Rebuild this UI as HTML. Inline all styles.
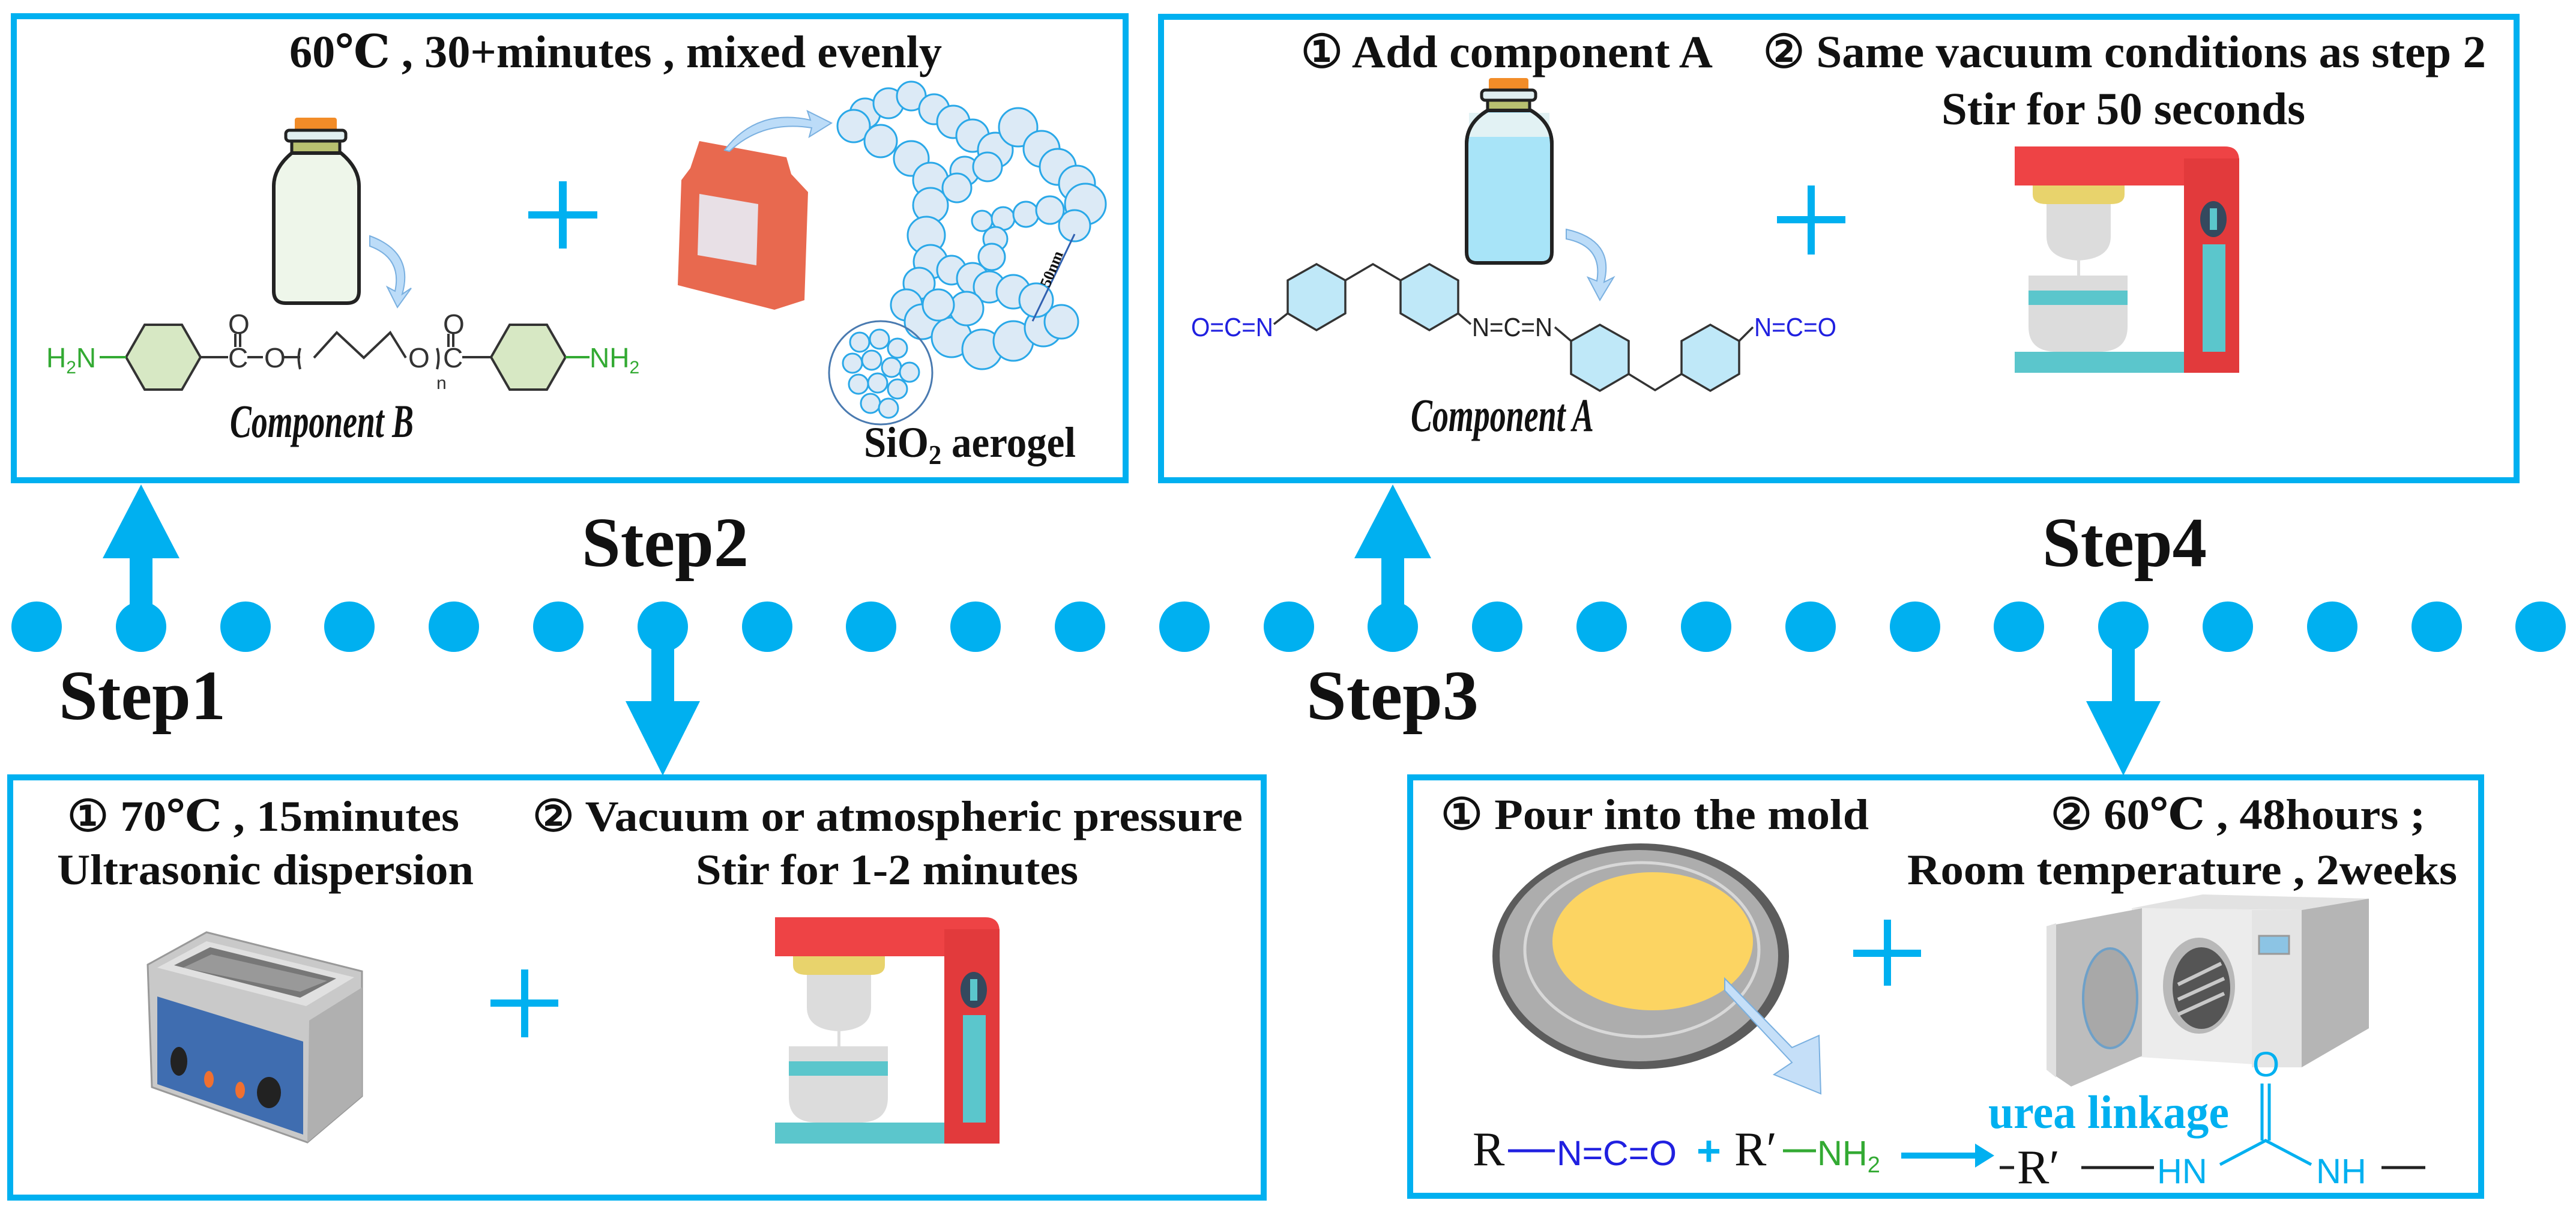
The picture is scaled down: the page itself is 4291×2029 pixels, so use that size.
<!DOCTYPE html>
<html><head><meta charset="utf-8"><style>
html,body{margin:0;padding:0;background:#fff;}
svg{display:block;}
.t{font-family:"Liberation Serif","DejaVu Serif",serif;font-weight:bold;fill:#111;}
.c{font-family:"Liberation Sans","DejaVu Sans",sans-serif;}
.s{font-family:"Liberation Serif",serif;font-style:italic;font-weight:bold;fill:#111;}
</style></head><body>
<svg width="4291" height="2029" viewBox="0 0 4291 2029" xmlns="http://www.w3.org/2000/svg">
<defs>
<g id="mixer">
  <path d="M0 0 H350 Q374 0 374 24 V377 H282 V65 H0 Z" fill="#ee4345"/>
  <rect x="282" y="20" width="92" height="357" fill="#e23a3c"/>
  <rect x="0" y="342" width="282" height="35" fill="#5bc6cc"/>
  <path d="M30 65 H183 V80 Q183 96 160 96 H53 Q30 96 30 80 Z" fill="#e8d36c"/>
  <path d="M53 96 H160 V150 Q160 187 106 190 Q53 187 53 150 Z" fill="#dcdcdc"/>
  <rect x="104" y="188" width="5" height="30" fill="#ddd"/>
  <path d="M23 215 H188 V300 Q188 342 140 342 H70 Q23 342 23 300 Z" fill="#dcdcdc"/>
  <rect x="23" y="240" width="165" height="24" fill="#5bc6cc"/>
  <ellipse cx="331" cy="121" rx="22" ry="30" fill="#34495e"/>
  <rect x="325" y="103" width="12" height="36" fill="#5bc6cc"/>
  <rect x="313" y="163" width="38" height="179" fill="#5bc6cc"/>
</g>
</defs>

<g fill="none" stroke="#00b0f0" stroke-width="10">
<rect x="23" y="27" width="1852" height="773"/>
<rect x="1934" y="28" width="2258" height="772"/>
<rect x="17" y="1295" width="2088" height="700"/>
<rect x="2349" y="1295" width="1784" height="697"/>
</g>

<g fill="#00b0f0">
<circle cx="61" cy="1044" r="42"/><circle cx="235" cy="1044" r="42"/><circle cx="409" cy="1044" r="42"/><circle cx="582" cy="1044" r="42"/><circle cx="756" cy="1044" r="42"/><circle cx="930" cy="1044" r="42"/><circle cx="1104" cy="1044" r="42"/><circle cx="1278" cy="1044" r="42"/><circle cx="1451" cy="1044" r="42"/><circle cx="1625" cy="1044" r="42"/><circle cx="1799" cy="1044" r="42"/><circle cx="1973" cy="1044" r="42"/><circle cx="2147" cy="1044" r="42"/><circle cx="2320" cy="1044" r="42"/><circle cx="2494" cy="1044" r="42"/><circle cx="2668" cy="1044" r="42"/><circle cx="2842" cy="1044" r="42"/><circle cx="3016" cy="1044" r="42"/><circle cx="3190" cy="1044" r="42"/><circle cx="3363" cy="1044" r="42"/><circle cx="3537" cy="1044" r="42"/><circle cx="3711" cy="1044" r="42"/><circle cx="3885" cy="1044" r="42"/><circle cx="4059" cy="1044" r="42"/><circle cx="4232" cy="1044" r="42"/>
<rect x="216" y="925" width="38" height="119"/><polygon points="171,930 299,930 235,807"/>
<rect x="2301" y="925" width="38" height="119"/><polygon points="2256,930 2384,930 2320,807"/>
<rect x="1085" y="1044" width="38" height="128"/><polygon points="1042,1168 1166,1168 1104,1292"/>
<rect x="3518" y="1044" width="38" height="128"/><polygon points="3475,1168 3599,1168 3537,1292"/>
</g>

<text class="t" x="98" y="1198" font-size="118" textLength="278" lengthAdjust="spacingAndGlyphs">Step1</text>
<text class="t" x="969" y="943" font-size="118" textLength="278" lengthAdjust="spacingAndGlyphs">Step2</text>
<text class="t" x="2176" y="1198" font-size="118" textLength="287" lengthAdjust="spacingAndGlyphs">Step3</text>
<text class="t" x="3402" y="943" font-size="118" textLength="274" lengthAdjust="spacingAndGlyphs">Step4</text>

<!-- Box1 -->
<text class="t" x="482" y="112" font-size="76" textLength="1087" lengthAdjust="spacingAndGlyphs">60℃ , 30+minutes , mixed evenly</text>
<rect x="491" y="196" width="70" height="22" rx="4" fill="#f28c28"/>
<rect x="476" y="217" width="100" height="18" rx="6" fill="#e0eef0" stroke="#222" stroke-width="5"/>
<rect x="486" y="235" width="80" height="20" fill="#b8c070" stroke="#222" stroke-width="5"/>
<path d="M486 255 Q456 280 456 310 V485 Q456 505 476 505 H578 Q598 505 598 485 V310 Q598 280 568 255 Z" fill="#eef6ea" stroke="#222" stroke-width="6"/>
<path d="M616 393 Q690 420 670 490 L685 480 L662 512 L645 478 L658 485 Q670 430 616 410 Z" fill="#bcdcf8" stroke="#7ab0e0" stroke-width="2"/>
<g stroke="#333" stroke-width="4" fill="#d7e8c4">
<polygon points="210,595 241,541 303,541 334,595 303,649 241,649"/>
<polygon points="818,595 849,541 911,541 942,595 911,649 849,649"/>
</g>
<g stroke="#333" stroke-width="4" fill="none">
<line x1="166" y1="595" x2="210" y2="595" stroke="#3a3"/>
<line x1="334" y1="595" x2="380" y2="595"/>
<line x1="392" y1="556" x2="392" y2="578"/><line x1="400" y1="556" x2="400" y2="578"/>
<line x1="412" y1="595" x2="438" y2="595"/>
<line x1="470" y1="595" x2="500" y2="595"/>
<path d="M500 580 Q495 595 500 615"/>
<polyline points="523,596 561,554 606,596 650,554 676,596"/>
<path d="M728 580 Q733 595 728 615"/>
<line x1="747" y1="556" x2="747" y2="578"/><line x1="755" y1="556" x2="755" y2="578"/>
<line x1="770" y1="595" x2="818" y2="595"/>
<line x1="942" y1="595" x2="982" y2="595" stroke="#3a3"/>
</g>
<g class="c" font-size="46">
<text x="77" y="612" fill="#3a3">H<tspan font-size="30" dy="10">2</tspan><tspan dy="-10">N</tspan></text>
<text x="380" y="612" fill="#333">C</text><text x="380" y="556" fill="#333">O</text>
<text x="440" y="612" fill="#333">O</text>
<text x="680" y="612" fill="#333">O</text>
<text x="738" y="612" fill="#333">C</text><text x="738" y="556" fill="#333">O</text>
<text x="727" y="648" font-size="30" fill="#333">n</text>
<text x="982" y="612" fill="#3a3">NH<tspan font-size="30" dy="10">2</tspan></text>
</g>
<text class="s" x="383" y="728" font-size="78" textLength="306" lengthAdjust="spacingAndGlyphs">Component B</text>
<rect x="880" y="352" width="115" height="12" fill="#00b0f0"/><rect x="931" y="302" width="13" height="112" fill="#00b0f0"/>
<path d="M1165 235 L1310 262 L1318 290 L1346 320 L1340 500 L1290 516 L1129 475 L1135 300 L1150 280 Z" fill="#e8694f"/>
<polygon points="1165,323 1263,340 1260,442 1162,425" fill="#e8e0e6"/>
<path d="M1207 250 Q1260 180 1350 200 L1345 185 L1385 205 L1348 228 L1352 213 Q1270 200 1215 252 Z" fill="#bcdcf8" stroke="#7ab0e0" stroke-width="2"/>
<g fill="#dceaf6" stroke="#2aa8e8" stroke-width="3">
<circle cx="1441" cy="189" r="25"/><circle cx="1480" cy="172" r="25"/><circle cx="1518" cy="160" r="24"/><circle cx="1556" cy="182" r="25"/><circle cx="1588" cy="203" r="27"/><circle cx="1620" cy="226" r="27"/><circle cx="1658" cy="250" r="29"/><circle cx="1696" cy="212" r="32"/><circle cx="1735" cy="248" r="30"/><circle cx="1762" cy="278" r="30"/><circle cx="1794" cy="306" r="30"/><circle cx="1808" cy="340" r="34"/><circle cx="1790" cy="376" r="26"/>
<circle cx="1422" cy="210" r="27"/><circle cx="1467" cy="235" r="27"/><circle cx="1518" cy="264" r="29"/><circle cx="1550" cy="300" r="29"/><circle cx="1550" cy="342" r="29"/><circle cx="1543" cy="392" r="31"/><circle cx="1550" cy="436" r="28"/><circle cx="1531" cy="472" r="26"/><circle cx="1510" cy="508" r="26"/><circle cx="1536" cy="536" r="29"/><circle cx="1585" cy="562" r="33"/><circle cx="1636" cy="582" r="33"/><circle cx="1688" cy="568" r="33"/><circle cx="1738" cy="546" r="31"/><circle cx="1768" cy="536" r="28"/>
<circle cx="1607" cy="285" r="24"/><circle cx="1645" cy="278" r="24"/><circle cx="1594" cy="313" r="24"/><circle cx="1636" cy="368" r="17"/><circle cx="1671" cy="364" r="19"/><circle cx="1709" cy="357" r="21"/><circle cx="1749" cy="350" r="23"/>
<circle cx="1658" cy="398" r="20"/><circle cx="1652" cy="428" r="22"/><circle cx="1585" cy="450" r="24"/><circle cx="1620" cy="464" r="26"/><circle cx="1648" cy="478" r="26"/><circle cx="1688" cy="486" r="28"/><circle cx="1726" cy="500" r="28"/><circle cx="1610" cy="514" r="28"/><circle cx="1563" cy="508" r="26"/>
</g>
<circle cx="1467" cy="621" r="86" fill="none" stroke="#4a7ab0" stroke-width="3"/>
<g fill="#dceaf6" stroke="#2aa8e8" stroke-width="3">
<circle cx="1432" cy="570" r="16"/><circle cx="1465" cy="565" r="16"/><circle cx="1495" cy="580" r="16"/><circle cx="1420" cy="605" r="16"/><circle cx="1452" cy="600" r="16"/><circle cx="1485" cy="612" r="16"/><circle cx="1515" cy="620" r="16"/><circle cx="1430" cy="640" r="16"/><circle cx="1462" cy="638" r="16"/><circle cx="1495" cy="648" r="16"/><circle cx="1450" cy="672" r="16"/><circle cx="1480" cy="680" r="16"/>
</g>
<line x1="1720" y1="535" x2="1790" y2="390" stroke="#3060b0" stroke-width="3"/>
<text class="t" x="0" y="0" font-size="26" transform="translate(1748,480) rotate(-68)">50nm</text>
<text class="t" x="1439" y="761" font-size="72" textLength="353" lengthAdjust="spacingAndGlyphs">SiO<tspan font-size="46" dy="12">2</tspan><tspan dy="-12"> aerogel</tspan></text>

<!-- Box2 -->
<text class="t" x="2167" y="112" font-size="76" textLength="686" lengthAdjust="spacingAndGlyphs">① Add component A</text>
<text class="t" x="2937" y="112" font-size="76" textLength="1204" lengthAdjust="spacingAndGlyphs">② Same vacuum conditions as step 2</text>
<text class="t" x="3234" y="207" font-size="76" textLength="606" lengthAdjust="spacingAndGlyphs">Stir for 50 seconds</text>
<rect x="2480" y="130" width="66" height="22" rx="4" fill="#f28c28"/>
<rect x="2468" y="150" width="90" height="17" rx="6" fill="#e0eef0" stroke="#222" stroke-width="5"/>
<rect x="2478" y="167" width="70" height="17" fill="#b8c070" stroke="#222" stroke-width="5"/>
<path d="M2478 184 Q2443 205 2443 240 V420 Q2443 438 2460 438 H2568 Q2585 438 2585 420 V240 Q2585 205 2550 184 Z" fill="#a8e4f8" stroke="#222" stroke-width="6"/>
<path d="M2447 188 H2581 V228 H2447 Z" fill="#e2f2f4"/>
<path d="M2478 184 Q2443 205 2443 240 M2550 184 Q2585 205 2585 240" fill="none" stroke="#222" stroke-width="6"/>
<path d="M2609 382 Q2690 400 2672 470 L2688 462 L2665 500 L2645 462 L2660 468 Q2670 410 2609 398 Z" fill="#bcdcf8" stroke="#7ab0e0" stroke-width="2"/>
<g stroke="#333" stroke-width="3.5" fill="#bfe8f8">
<polygon points="2193,440 2241,467 2241,522 2193,550 2145,522 2145,467"/>
<polygon points="2381,440 2429,467 2429,522 2381,550 2333,522 2333,467"/>
<polygon points="2665,541 2713,568 2713,623 2665,651 2617,623 2617,568"/>
<polygon points="2849,541 2897,568 2897,623 2849,651 2801,623 2801,568"/>
</g>
<g stroke="#333" stroke-width="3.5" fill="none">
<polyline points="2241,467 2287,440 2333,467"/>
<polyline points="2713,623 2757,650 2801,623"/>
<line x1="2145" y1="522" x2="2122" y2="540"/>
<line x1="2429" y1="522" x2="2450" y2="540"/>
<line x1="2590" y1="545" x2="2617" y2="568"/>
<line x1="2897" y1="568" x2="2920" y2="545"/>
</g>
<g class="c" font-size="44">
<text x="1984" y="560" fill="#2020e0" textLength="137" lengthAdjust="spacingAndGlyphs">O=C=N</text>
<text x="2452" y="560" fill="#222" textLength="134" lengthAdjust="spacingAndGlyphs">N=C=N</text>
<text x="2922" y="560" fill="#2020e0" textLength="137" lengthAdjust="spacingAndGlyphs">N=C=O</text>
</g>
<text class="s" x="2350" y="718" font-size="78" textLength="305" lengthAdjust="spacingAndGlyphs">Component A</text>
<rect x="2960" y="360" width="114" height="12" fill="#00b0f0"/><rect x="3011" y="309" width="12" height="115" fill="#00b0f0"/>
<use href="#mixer" x="3356" y="244"/>

<!-- Box3 -->
<text class="t" x="112" y="1384" font-size="72" textLength="653" lengthAdjust="spacingAndGlyphs">① 70℃ , 15minutes</text>
<text class="t" x="95" y="1473" font-size="72" textLength="694" lengthAdjust="spacingAndGlyphs">Ultrasonic dispersion</text>
<text class="t" x="887" y="1384" font-size="72" textLength="1183" lengthAdjust="spacingAndGlyphs">② Vacuum or atmospheric pressure</text>
<text class="t" x="1159" y="1473" font-size="72" textLength="637" lengthAdjust="spacingAndGlyphs">Stir for 1-2 minutes</text>
<polygon points="246,1607 344,1553 603,1618 603,1826 512,1903 253,1811" fill="#c9c9c9" stroke="#999" stroke-width="3"/>
<polygon points="262,1612 344,1568 590,1628 510,1676" fill="#e0e0e0"/>
<polygon points="290,1608 350,1578 560,1630 500,1662" fill="#777"/>
<polygon points="305,1612 352,1590 545,1634 500,1652" fill="#999"/>
<polygon points="262,1660 505,1735 505,1890 262,1806" fill="#3f6db0"/>
<polygon points="515,1700 603,1645 603,1826 512,1903" fill="#b0b0b0"/>
<ellipse cx="298" cy="1768" rx="14" ry="24" fill="#222"/>
<ellipse cx="448" cy="1820" rx="20" ry="26" fill="#222"/>
<ellipse cx="348" cy="1798" rx="8" ry="14" fill="#f07030"/>
<ellipse cx="400" cy="1816" rx="8" ry="14" fill="#f07030"/>
<rect x="817" y="1665" width="113" height="12" fill="#00b0f0"/><rect x="868" y="1615" width="12" height="113" fill="#00b0f0"/>
<use href="#mixer" x="1291" y="1528"/>

<!-- Box4 -->
<text class="t" x="2400" y="1381" font-size="72" textLength="713" lengthAdjust="spacingAndGlyphs">① Pour into the mold</text>
<text class="t" x="3416" y="1381" font-size="72" textLength="624" lengthAdjust="spacingAndGlyphs">② 60℃ , 48hours ;</text>
<text class="t" x="3177" y="1473" font-size="72" textLength="916" lengthAdjust="spacingAndGlyphs">Room temperature , 2weeks</text>
<ellipse cx="2733" cy="1593" rx="247" ry="188" fill="#5c5c5c"/>
<ellipse cx="2730" cy="1592" rx="232" ry="176" fill="#adadad"/>
<ellipse cx="2735" cy="1582" rx="195" ry="145" fill="none" stroke="#d8d8d8" stroke-width="5"/>
<ellipse cx="2753" cy="1568" rx="167" ry="115" fill="#fcd462"/>
<path d="M2873 1630 L2985 1745 L3030 1725 L3033 1822 L2955 1790 L2985 1770 L2873 1650 Z" fill="#c5dff8" stroke="#7ab0e0" stroke-width="2"/>
<rect x="3087" y="1582" width="113" height="12" fill="#00b0f0"/><rect x="3138" y="1532" width="12" height="110" fill="#00b0f0"/>
<!-- oven -->
<polygon points="3551,1513 3669,1490 3946,1497 3834,1516" fill="#e2e2e2"/>
<polygon points="3551,1513 3834,1516 3834,1778 3551,1760" fill="#ececec"/>
<rect x="3751" y="1516" width="83" height="262" fill="#e4e4e4"/>
<polygon points="3834,1516 3946,1497 3946,1713 3834,1778" fill="#b5b5b5"/>
<polygon points="3409,1543 3568,1513 3568,1759 3450,1810 3409,1782" fill="#bdbdbd"/>
<polygon points="3409,1543 3425,1538 3425,1795 3409,1782" fill="#e0e0e0"/>
<ellipse cx="3515" cy="1663" rx="45" ry="83" fill="#a8a8a8" stroke="#6ea0c8" stroke-width="4"/>
<ellipse cx="3663" cy="1642" rx="60" ry="80" fill="#b8b8b8"/>
<ellipse cx="3667" cy="1646" rx="48" ry="68" fill="#555"/>
<g stroke="#c8c8c8" stroke-width="6"><line x1="3628" y1="1640" x2="3700" y2="1605"/><line x1="3628" y1="1665" x2="3705" y2="1630"/><line x1="3628" y1="1690" x2="3705" y2="1655"/></g>
<rect x="3763" y="1559" width="50" height="30" fill="#8cc4e4" stroke="#999" stroke-width="3"/>
<!-- reaction -->
<text class="t" x="2453" y="1941" font-size="80" style="font-weight:normal">R</text>
<line x1="2512" y1="1917" x2="2590" y2="1917" stroke="#2020e0" stroke-width="5"/>
<text class="c" x="2593" y="1941" font-size="58" fill="#2020e0" textLength="200" lengthAdjust="spacingAndGlyphs">N=C=O</text>
<text class="c" x="2826" y="1941" font-size="70" fill="#00b0f0" font-weight="bold">+</text>
<text class="t" x="2889" y="1941" font-size="80" style="font-weight:normal">R′</text>
<line x1="2970" y1="1917" x2="3025" y2="1917" stroke="#3a3" stroke-width="5"/>
<text class="c" x="3027" y="1941" font-size="58" fill="#3a3">NH<tspan font-size="38" dy="12">2</tspan></text>
<line x1="3167" y1="1925" x2="3295" y2="1925" stroke="#00b0f0" stroke-width="10"/>
<polygon points="3290,1905 3322,1925 3290,1945" fill="#00b0f0"/>
<text class="t" x="3312" y="1879" font-size="78" style="fill:#00b0f0" textLength="401" lengthAdjust="spacingAndGlyphs">urea linkage</text>
<line x1="3331" y1="1945" x2="3355" y2="1945" stroke="#222" stroke-width="5"/>
<text class="t" x="3360" y="1971" font-size="80" style="font-weight:normal">R′</text>
<line x1="3467" y1="1945" x2="3588" y2="1945" stroke="#222" stroke-width="5"/>
<text class="c" x="3593" y="1971" font-size="58" fill="#00b0f0">HN</text>
<text class="c" x="3858" y="1971" font-size="58" fill="#00b0f0">NH</text>
<line x1="3967" y1="1945" x2="4040" y2="1945" stroke="#222" stroke-width="5"/>
<text class="c" x="3752" y="1793" font-size="58" fill="#00b0f0">O</text>
<g stroke="#00b0f0" stroke-width="5" fill="none">
<line x1="3768" y1="1805" x2="3768" y2="1900"/><line x1="3780" y1="1805" x2="3780" y2="1900"/>
<polyline points="3698,1940 3774,1900 3850,1940"/>
</g>
</svg>
</body></html>
